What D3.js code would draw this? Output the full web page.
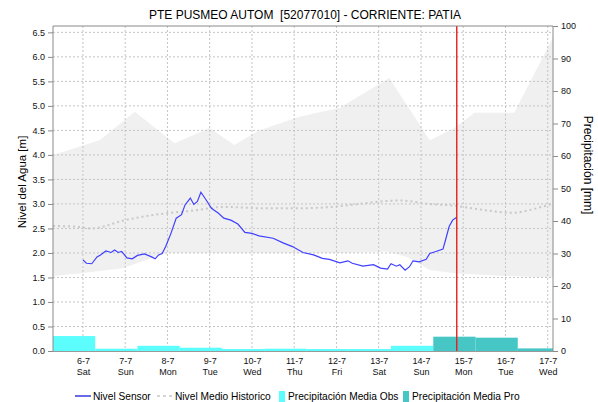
<!DOCTYPE html>
<html>
<head>
<meta charset="utf-8">
<script src="https://cdn.jsdelivr.net/npm/d3@7"></script>
<style>
  body { margin: 0; background: #fff; }
  svg { display: block; font-family: "Liberation Sans", Arial, sans-serif; }
</style>
</head>
<body>
<svg id="chart" width="598" height="402"></svg>
<script>
// nivel del sensor [m]
const sensorData = [
  ["2024-07-06T00:00",1.86],["2024-07-06T02:00",1.79],["2024-07-06T05:00",1.78],["2024-07-06T08:00",1.92],
  ["2024-07-06T10:00",1.96],["2024-07-06T13:00",2.04],["2024-07-06T16:00",2.01],["2024-07-06T18:00",2.06],
  ["2024-07-06T20:00",2.01],["2024-07-06T22:00",2.03],["2024-07-07T01:00",1.90],["2024-07-07T04:00",1.88],
  ["2024-07-07T07:00",1.95],["2024-07-07T11:00",1.98],["2024-07-07T15:00",1.92],["2024-07-07T17:00",1.88],
  ["2024-07-07T19:00",1.96],["2024-07-07T21:00",1.99],["2024-07-07T23:00",2.13],["2024-07-08T02:00",2.40],
  ["2024-07-08T05:00",2.71],["2024-07-08T08:00",2.78],["2024-07-08T10:00",2.98],["2024-07-08T13:00",3.12],
  ["2024-07-08T15:00",2.99],["2024-07-08T17:00",3.05],["2024-07-08T19:00",3.24],["2024-07-08T22:00",3.08],
  ["2024-07-09T01:00",2.91],["2024-07-09T05:00",2.81],["2024-07-09T08:00",2.71],["2024-07-09T12:00",2.67],
  ["2024-07-09T16:00",2.59],["2024-07-09T20:00",2.42],["2024-07-10T00:00",2.40],["2024-07-10T04:00",2.35],
  ["2024-07-10T12:00",2.30],["2024-07-10T18:00",2.20],["2024-07-10T23:00",2.13],["2024-07-11T05:00",2.01],
  ["2024-07-11T11:00",1.96],["2024-07-11T16:00",1.89],["2024-07-11T20:00",1.87],["2024-07-12T02:00",1.80],
  ["2024-07-12T06:30",1.84],["2024-07-12T09:00",1.79],["2024-07-12T15:00",1.73],["2024-07-12T21:00",1.76],
  ["2024-07-13T01:00",1.69],["2024-07-13T05:00",1.67],["2024-07-13T07:00",1.78],["2024-07-13T10:00",1.73],
  ["2024-07-13T12:00",1.76],["2024-07-13T15:00",1.65],["2024-07-13T17:30",1.72],["2024-07-13T19:30",1.84],
  ["2024-07-13T23:00",1.82],["2024-07-14T03:00",1.87],["2024-07-14T05:00",1.99],["2024-07-14T08:30",2.03],
  ["2024-07-14T12:30",2.08],["2024-07-14T14:00",2.27],["2024-07-14T16:00",2.54],["2024-07-14T18:00",2.67],
  ["2024-07-14T20:20",2.73]
];

// nivel medio historico [m]
const meanData = [
  ["2024-07-05T07:00",2.55],["2024-07-05T19:00",2.54],["2024-07-06T05:00",2.50],["2024-07-07T00:00",2.67],
  ["2024-07-07T19:00",2.79],["2024-07-08T13:30",2.86],["2024-07-09T08:30",2.94],["2024-07-10T07:00",2.91],
  ["2024-07-10T23:00",2.91],["2024-07-11T18:00",2.93],["2024-07-12T13:00",3.00],["2024-07-13T00:30",3.05],
  ["2024-07-13T12:00",3.07],["2024-07-14T05:00",3.00],["2024-07-14T20:00",2.96],["2024-07-15T09:00",2.89],
  ["2024-07-16T04:00",2.82],["2024-07-16T17:30",2.91],["2024-07-17T03:00",3.01]
];

// banda historica (maximo / minimo) [m]
const bandMax = [
  ["2024-07-05T07:00",4.00],["2024-07-06T09:30",4.30],["2024-07-07T05:30",4.88],["2024-07-08T04:00",4.24],
  ["2024-07-09T00:00",4.55],["2024-07-09T14:00",4.20],["2024-07-10T04:00",4.50],["2024-07-11T03:00",4.78],
  ["2024-07-12T02:00",4.96],["2024-07-13T06:00",5.57],["2024-07-14T05:00",4.30],["2024-07-14T19:00",4.55],
  ["2024-07-15T06:30",4.86],["2024-07-16T05:00",4.86],["2024-07-17T03:00",6.40]
];
const bandMin = [
  ["2024-07-05T07:00",1.53],["2024-07-06T00:00",1.59],["2024-07-06T22:30",1.69],["2024-07-07T23:30",2.00],
  ["2024-07-12T06:00",2.00],["2024-07-13T04:30",2.03],["2024-07-13T16:00",1.92],["2024-07-14T05:00",1.65],
  ["2024-07-14T20:00",1.58],["2024-07-16T00:30",1.53],["2024-07-17T03:00",1.50]
];

// precipitacion diaria [mm] (dia de 07:00 a 07:00)
const obsDays = ["2024-07-05","2024-07-06","2024-07-07","2024-07-08","2024-07-09","2024-07-10","2024-07-11","2024-07-12","2024-07-13"];
const obsValues = [4.6, 0.7, 1.6, 1.0, 0.6, 0.7, 0.6, 0.6, 1.6];
const proDays = ["2024-07-14","2024-07-15","2024-07-16"];
const proValues = [4.4, 4.1, 0.8];

const levelTicks = d3.range(0, 6.51, 0.5);
const rainTicks = d3.range(0, 101, 10);
const dayNames = ["Sun","Mon","Tue","Wed","Thu","Fri","Sat"];
const nowTime = "2024-07-14T20:20";

const parse = d3.timeParse("%Y-%m-%dT%H:%M");
const parseDay = d3.timeParse("%Y-%m-%d");

const svg = d3.select("#chart");
const pL = 53, pR = 553, pT = 26, pB = 351;

let x = d3.scaleTime()
    .domain([parse("2024-07-05T07:00"), parse("2024-07-17T03:00")])
    .range([pL, pR]);
let yL = d3.scaleLinear().domain([0, 6.63]).range([pB, pT]);
let yR = d3.scaleLinear().domain([0, 100]).range([pB, pT]);

svg.append("defs").append("clipPath").attr("id","plot")
    .append("rect").attr("x",pL).attr("y",pT).attr("width",pR-pL).attr("height",pB-pT);

let plot = svg.append("g").attr("clip-path","url(#plot)");

// banda historica
let band = bandMax.concat(bandMin.slice().reverse());
plot.append("path")
    .attr("d", d3.line().x(d => x(parse(d[0]))).y(d => yL(d[1]))(band) + "Z")
    .attr("fill","#f0f0f0");

// grilla
let days = d3.timeDay.range(parseDay("2024-07-06"), parseDay("2024-07-18"));
plot.append("g").selectAll("line").data(days).enter().append("line")
    .attr("x1", d => x(d)).attr("x2", d => x(d))
    .attr("y1", pT).attr("y2", pB)
    .attr("stroke","#c4c4c4").attr("stroke-dasharray","2,2");
plot.append("g").selectAll("line").data(levelTicks.slice(1)).enter().append("line")
    .attr("x1", pL).attr("x2", pR)
    .attr("y1", d => yL(d)).attr("y2", d => yL(d))
    .attr("stroke","#c4c4c4").attr("stroke-dasharray","2,2");

// barras de precipitacion
function addBars(dayList, values, color) {
    plot.append("g").selectAll("rect").data(values).enter().append("rect")
        .attr("x", (d,i) => x(d3.timeHour.offset(parseDay(dayList[i]), 7)))
        .attr("width", (d,i) => x(d3.timeHour.offset(parseDay(dayList[i]), 31)) - x(d3.timeHour.offset(parseDay(dayList[i]), 7)))
        .attr("y", d => yR(d))
        .attr("height", d => yR(0) - yR(d))
        .attr("fill", color);
}
addBars(obsDays, obsValues, "#5cfdfd");
addBars(proDays, proValues, "#46c7c6");

// nivel medio historico
plot.append("path")
    .attr("d", d3.line().curve(d3.curveMonotoneX).x(d => x(parse(d[0]))).y(d => yL(d[1]))(meanData))
    .attr("fill","none").attr("stroke","#c8c8c8").attr("stroke-width",2).attr("stroke-dasharray","2,3");

// nivel sensor
plot.append("path")
    .attr("d", d3.line().x(d => x(parse(d[0]))).y(d => yL(d[1]))(sensorData))
    .attr("fill","none").attr("stroke","#3f3fff").attr("stroke-width",1.2);

// linea de hora actual
svg.append("line")
    .attr("x1", x(parse(nowTime))).attr("x2", x(parse(nowTime)))
    .attr("y1", pT).attr("y2", pB)
    .attr("stroke","#e81c1c").attr("stroke-width",1.4);

// ejes
let axisL = svg.append("g").attr("transform",`translate(${pL},0)`)
    .call(d3.axisLeft(yL).tickValues(levelTicks).tickFormat(d3.format(".1f")).tickSize(5).tickSizeOuter(0));
let axisR = svg.append("g").attr("transform",`translate(${pR},0)`)
    .call(d3.axisRight(yR).tickValues(rainTicks).tickSize(5).tickSizeOuter(0));
for (const a of [axisL, axisR]) {
    a.selectAll("path, line").attr("stroke","#8a8a8a");
    a.selectAll("text").attr("font-size",9).attr("font-family","Liberation Sans, Arial, sans-serif").attr("fill","#111");
}
axisL.select(".domain").attr("d", `M0,${pT}V${pB}`);
axisR.select(".domain").attr("d", `M0,${pT}V${pB}`);

svg.append("line").attr("x1",pL).attr("x2",pR).attr("y1",pT).attr("y2",pT).attr("stroke","#8a8a8a");

let axisB = svg.append("g").attr("transform",`translate(0,${pB})`)
    .call(d3.axisBottom(x).tickValues(days.slice(0, 12)).tickSize(0).tickFormat(""));
axisB.select(".domain").attr("stroke","#333").attr("stroke-dasharray","1,1");
axisB.selectAll(".tick text").remove();
axisB.selectAll(".tick").each(function(d) {
    let t = d3.select(this).append("text")
        .attr("fill","#111").attr("font-size",9).attr("text-anchor","middle")
        .attr("font-family","Liberation Sans, Arial, sans-serif");
    t.append("tspan").attr("x",0).attr("y",13).text(d3.timeFormat("%-d-%-m")(d));
    t.append("tspan").attr("x",0).attr("y",24).text(dayNames[d.getDay()]);
});

// titulos
svg.append("text").attr("x",305).attr("y",18.5).attr("text-anchor","middle")
    .attr("font-size",12).style("white-space","pre")
    .text("PTE PUSMEO AUTOM  [52077010] - CORRIENTE: PATIA");
svg.append("text").attr("transform","translate(26,182) rotate(-90)").attr("text-anchor","middle")
    .attr("font-size",11.5).text("Nivel del Agua [m]");
svg.append("text").attr("transform","translate(584,165) rotate(90)").attr("text-anchor","middle")
    .attr("font-size",12).text("Precipitación [mm]");

// leyenda
let legend = svg.append("g").attr("font-size",10.2);
legend.append("line").attr("x1",75).attr("x2",91).attr("y1",396).attr("y2",396).attr("stroke","#1a1ad8").attr("stroke-width",1.3);
legend.append("text").attr("x",93).attr("y",400).text("Nivel Sensor");
legend.append("line").attr("x1",157).attr("x2",173).attr("y1",396).attr("y2",396).attr("stroke","#c8c8c8").attr("stroke-width",1.3).attr("stroke-dasharray","3,3");
legend.append("text").attr("x",175).attr("y",400).text("Nivel Medio Historico");
legend.append("rect").attr("x",279).attr("y",391).attr("width",6).attr("height",11).attr("fill","#5cfdfd");
legend.append("text").attr("x",288).attr("y",400).text("Precipitación Media Obs");
legend.append("rect").attr("x",403).attr("y",391).attr("width",6).attr("height",11).attr("fill","#46c7c6");
legend.append("text").attr("x",412).attr("y",400).text("Precipitación Media Pro");
</script>
</body>
</html>
